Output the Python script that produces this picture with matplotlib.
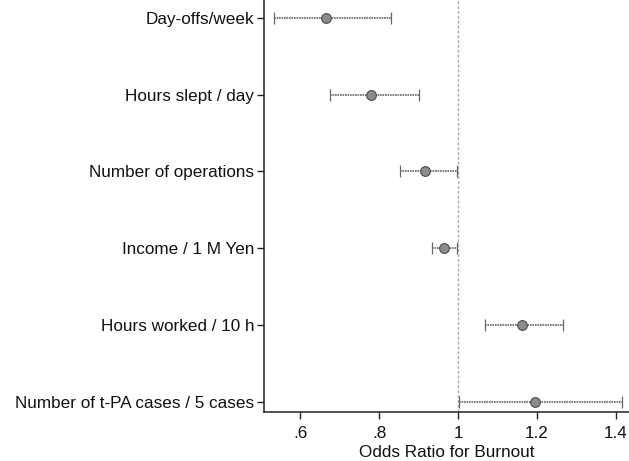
import matplotlib
matplotlib.use("Agg")
import matplotlib.pyplot as plt
from matplotlib.ticker import FixedLocator, FixedFormatter

plt.rcParams["font.family"] = ["Liberation Sans", "DejaVu Sans"]

# Odds ratios with 95% CI, top to bottom
labels = ["Day-offs/week", "Hours slept / day", "Number of operations",
          "Income / 1 M Yen", "Hours worked / 10 h",
          "Number of t-PA cases / 5 cases"]
odds = [0.664, 0.778, 0.916, 0.964, 1.161, 1.194]
lower = [0.534, 0.674, 0.852, 0.934, 1.069, 1.003]
upper = [0.829, 0.901, 0.997, 0.997, 1.265, 1.415]

xticks = [0.6, 0.8, 1.0, 1.2, 1.4]
xtick_labels = [".6", ".8", "1", "1.2", "1.4"]

fig = plt.figure(figsize=(6.29, 4.61), dpi=100)
ax = fig.add_axes([264 / 629, 49 / 461, 1 - 264 / 629, 1 - 49 / 461])

ypos = list(range(len(labels), 0, -1))
err = [[o - l for o, l in zip(odds, lower)],
       [u - o for o, u in zip(odds, upper)]]

ax.axvline(1.0, color="#aaaaaa", linestyle=(0, (2, 1.5)), linewidth=1.0,
           zorder=1)
eb = ax.errorbar(odds, ypos, xerr=err, fmt="none", ecolor="#666666",
                 elinewidth=1.2, capsize=4, capthick=0.9, zorder=2)
eb[2][0].set_linestyle((0, (1, 0.5)))
ax.plot(odds, ypos, "o", markersize=7, markerfacecolor="#8c8c8c",
        markeredgecolor="#4a4a4a", markeredgewidth=0.8, linestyle="none",
        zorder=3)

ax.set_xlim(0.508, 1.433)
ax.set_ylim(0.87, 6.23)
ax.xaxis.set_major_locator(FixedLocator(xticks))
ax.xaxis.set_major_formatter(FixedFormatter(xtick_labels))
ax.set_yticks(ypos)
ax.set_yticklabels(labels)
ax.tick_params(axis="both", labelsize=12.3, color="#222222", length=5,
               width=1.0, labelcolor="#111111", pad=2)
ax.tick_params(axis="x", pad=5)
ax.set_xlabel("Odds Ratio for Burnout", fontsize=12.3, labelpad=3,
              color="#111111")

for side in ("top", "right"):
    ax.spines[side].set_visible(False)
for side in ("left", "bottom"):
    ax.spines[side].set_linewidth(1.1)
    ax.spines[side].set_color("#222222")

fig.savefig("out.png", dpi=100)
